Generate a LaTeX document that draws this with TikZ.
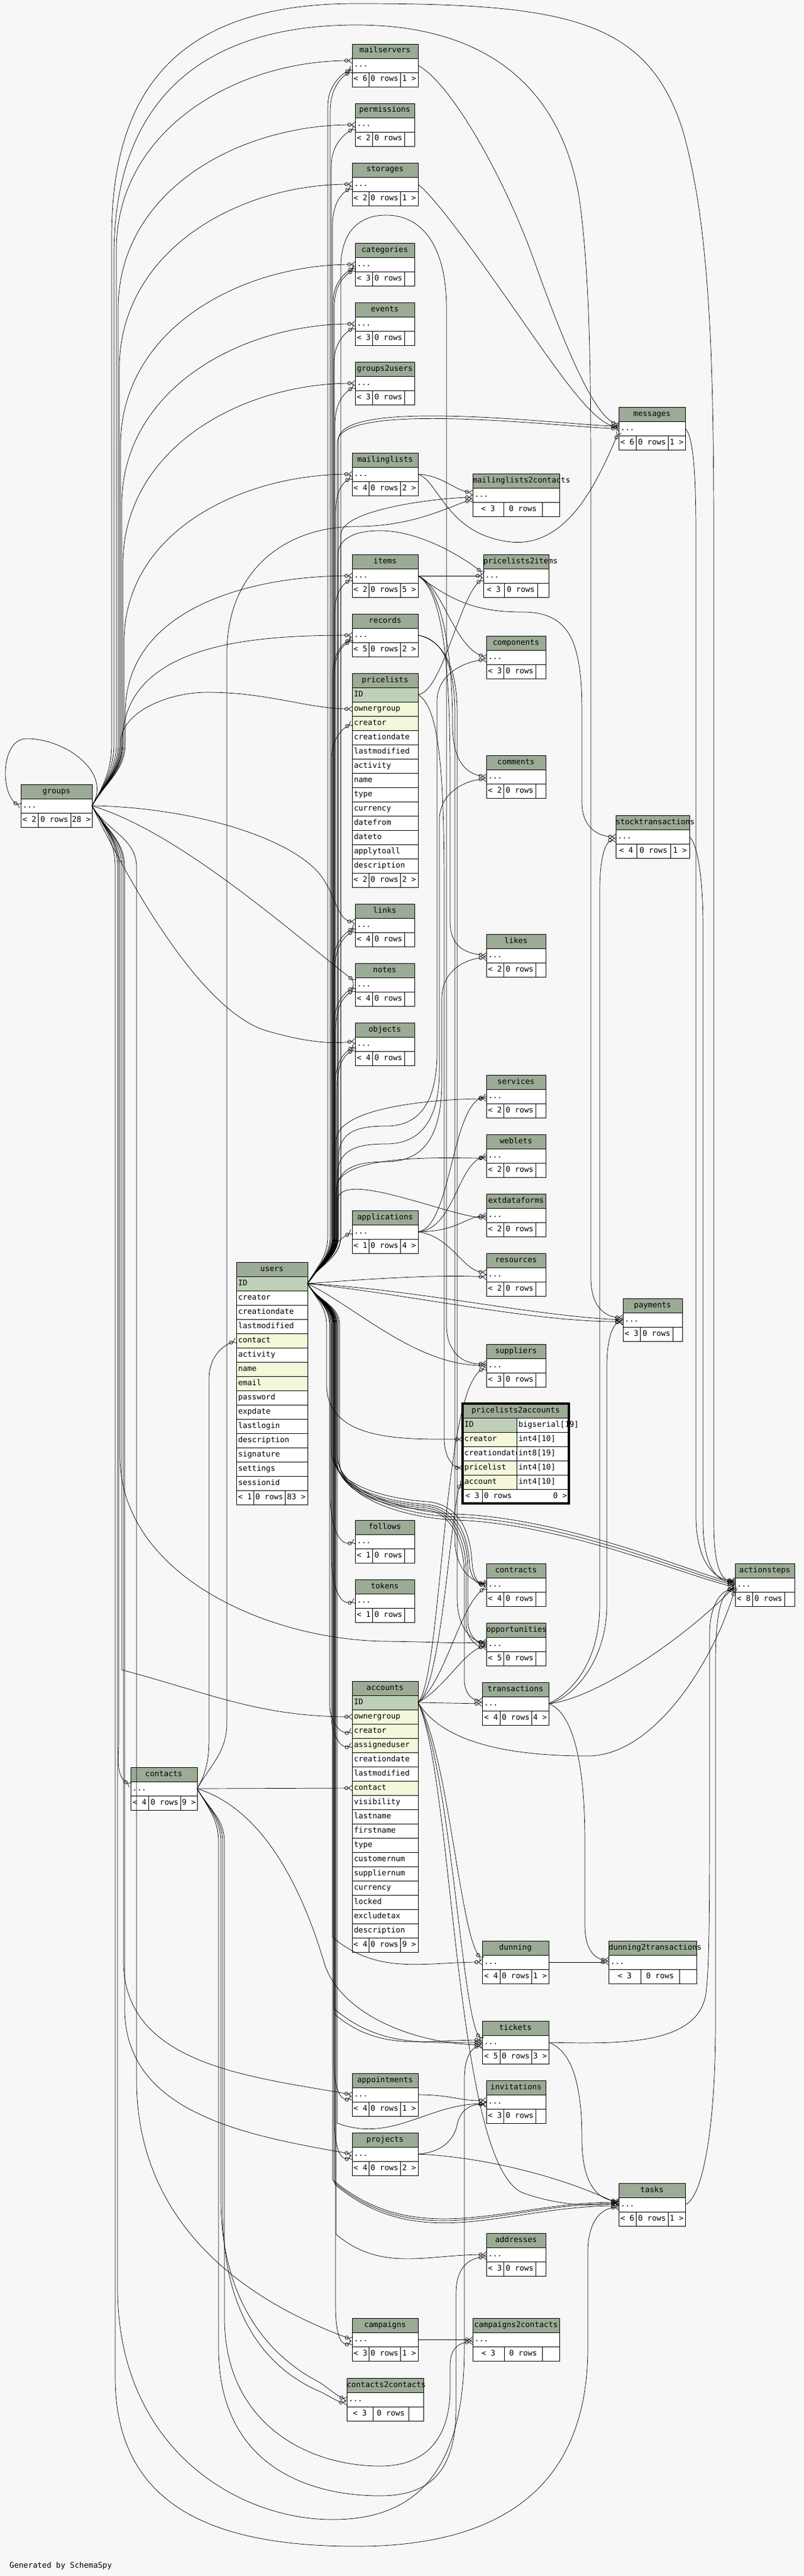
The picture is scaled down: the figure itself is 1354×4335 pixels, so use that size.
\documentclass[tikz,border=0pt]{standalone}
\usepackage{fontspec}
\newfontfamily\dfont{DejaVu Sans Mono}
\usetikzlibrary{arrows.meta}
\definecolor{bgc}{HTML}{F7F7F7}
\definecolor{hdr}{HTML}{9BAB96}
\definecolor{pkc}{HTML}{BED1B8}
\definecolor{fkc}{HTML}{F4F7DA}
\tikzset{
  cellbox/.style={draw=black, line width=0.9pt, minimum height=24pt, inner sep=0pt, outer sep=0pt, anchor=north west, font=\dfont\fontsize{13}{15}\selectfont},
  fk/.style={draw=black, line width=0.7pt, -{Circle[open,length=6.5pt,width=6.5pt] Straight Barb[reversed,length=5.5pt,width=9pt]}},
}
\newcommand\footer[8]{%
  \pgfmathsetmacro\wa{#3-#2}\pgfmathsetmacro\wb{#4-#3}\pgfmathsetmacro\wc{#5-#4}%
  \node[cellbox,fill=white] (#1-f1) at (#2,-#6) {\hbox to \wa pt{\strut\hfil #7\hfil}};
  \node[cellbox,fill=white] (#1-f2) at (#3,-#6) {\hbox to \wb pt{\strut\hfil 0 rows\hfil}};
  \node[cellbox,fill=white] (#1-f3) at (#4,-#6) {\hbox to \wc pt{\strut\hfil #8\hfil}};
}
\newcommand\tbl[9]{%
  \pgfmathsetmacro\tw{#5-#2}%
  \node[cellbox,fill=hdr] (#1) at (#2,-#6) {\hbox to \tw pt{\strut\hfil #7\hfil}};
  \node[cellbox,fill=white] (#1-r) at (#2,-#6-24) {\hbox to \tw pt{\strut\hskip3pt...\hfil}};
  \pgfmathsetmacro\fy{#6+48}%
  \footer{#1}{#2}{#3}{#4}{#5}{\fy}{#8}{#9}%
}
\newcommand\ccell[6]{\node[cellbox,fill=#5] (#1) at (#2,-#4) {\hbox to #3pt{\strut\hskip3pt #6\hfil}};}
\newcommand\EU[6][]{\draw[fk] (#2) to[out=60,in=-90] (#4,-#5) -- (#4,-#6) to[out=90,in=180,#1] (#3);}
\newcommand\ED[6][]{\draw[fk] (#2) to[out=-60,in=90] (#4,-#5) -- (#4,-#6) to[out=-90,in=180,#1] (#3);}
\begin{document}
\begin{tikzpicture}[x=1pt,y=1pt]
\useasboundingbox (0,0) rectangle (1354,-4335);
\fill[bgc] (0,0) rectangle (1354,-4335);

% ---------------- tables ----------------
\tbl{mailservers}{593}{621}{674}{704}{74}{mailservers}{< 6}{1 >}
\tbl{permissions}{598}{627}{681}{698}{174}{permissions}{< 2}{}
\tbl{storages}{593}{621}{674}{704}{274}{storages}{< 2}{1 >}
\tbl{categories}{598}{627}{681}{698}{409}{categories}{< 3}{}
\tbl{events}{598}{627}{681}{698}{509}{events}{< 3}{}
\tbl{groups2users}{598}{627}{681}{698}{609}{groups2users}{< 3}{}
\tbl{messages}{1042}{1071}{1125}{1154}{685}{messages}{< 6}{1 >}
\tbl{mailinglists}{593}{621}{674}{704}{762}{mailinglists}{< 4}{2 >}
\tbl{mailinglists2contacts}{796}{848}{913}{942}{797}{mailinglists2contacts}{< 3}{}
\tbl{items}{593}{621}{674}{704}{933}{items}{< 2}{5 >}
\tbl{pricelists2items}{814}{849}{905}{924}{933}{pricelists2items}{< 3}{}
\tbl{records}{593}{621}{674}{704}{1033}{records}{< 5}{2 >}
\tbl{components}{819}{848}{902}{919}{1070}{components}{< 3}{}
\tbl{comments}{819}{848}{902}{919}{1271}{comments}{< 2}{}
\tbl{groups}{35}{64}{119}{155}{1320}{groups}{< 2}{28 >}
\tbl{stocktransactions}{1037}{1072}{1129}{1161}{1372}{stocktransactions}{< 4}{1 >}
\tbl{links}{598}{627}{681}{698}{1521}{links}{< 4}{}
\tbl{likes}{819}{848}{902}{919}{1572}{likes}{< 2}{}
\tbl{notes}{598}{627}{681}{698}{1621}{notes}{< 4}{}
\tbl{objects}{598}{627}{681}{698}{1721}{objects}{< 4}{}
\tbl{services}{819}{848}{902}{919}{1809}{services}{< 2}{}
\tbl{weblets}{819}{848}{902}{919}{1909}{weblets}{< 2}{}
\tbl{extdataforms}{819}{848}{902}{919}{2009}{extdataforms}{< 2}{}
\tbl{applications}{593}{621}{674}{704}{2037}{applications}{< 1}{4 >}
\tbl{resources}{819}{848}{902}{919}{2109}{resources}{< 2}{}
\tbl{payments}{1049}{1078}{1133}{1149}{2185}{payments}{< 3}{}
\tbl{suppliers}{819}{848}{902}{919}{2262}{suppliers}{< 3}{}
\tbl{follows}{598}{627}{681}{698}{2558}{follows}{< 1}{}
\tbl{tokens}{598}{627}{681}{698}{2658}{tokens}{< 1}{}
\tbl{contracts}{819}{848}{902}{919}{2631}{contracts}{< 4}{}
\tbl{actionsteps}{1238}{1267}{1321}{1338}{2631}{actionsteps}{< 8}{}
\tbl{opportunities}{819}{848}{902}{919}{2731}{opportunities}{< 5}{}
\tbl{transactions}{812}{842}{895}{924}{2831}{transactions}{< 4}{4 >}
\tbl{contacts}{220}{250}{304}{332}{2974}{contacts}{< 4}{9 >}
\tbl{dunning}{812}{842}{895}{924}{3266}{dunning}{< 4}{1 >}
\tbl{dunning2transactions}{1025}{1079}{1144}{1173}{3266}{dunning2transactions}{< 3}{}
\tbl{tickets}{812}{842}{895}{924}{3401}{tickets}{< 5}{3 >}
\tbl{appointments}{593}{621}{674}{704}{3489}{appointments}{< 4}{1 >}
\tbl{invitations}{819}{848}{902}{919}{3501}{invitations}{< 3}{}
\tbl{projects}{593}{621}{674}{704}{3589}{projects}{< 4}{2 >}
\tbl{tasks}{1042}{1071}{1125}{1154}{3674}{tasks}{< 6}{1 >}
\tbl{addresses}{819}{848}{902}{919}{3758}{addresses}{< 3}{}
\tbl{campaigns}{593}{621}{674}{704}{3901}{campaigns}{< 3}{1 >}
\tbl{campaigns2contacts}{796}{849}{913}{942}{3901}{campaigns2contacts}{< 3}{}
\tbl{contacts2contacts}{584}{628}{688}{713}{4002}{contacts2contacts}{< 3}{}

% pricelists
\node[cellbox,fill=hdr] (pricelists) at (593,-1133) {\hbox to 111pt{\strut\hfil pricelists\hfil}};
\ccell{pl-ID}{593}{111}{1157}{pkc}{ID}
\ccell{pl-ownergroup}{593}{111}{1181}{fkc}{ownergroup}
\ccell{pl-creator}{593}{111}{1205}{fkc}{creator}
\ccell{pl-creationdate}{593}{111}{1229}{white}{creationdate}
\ccell{pl-lastmodified}{593}{111}{1253}{white}{lastmodified}
\ccell{pl-activity}{593}{111}{1277}{white}{activity}
\ccell{pl-name}{593}{111}{1301}{white}{name}
\ccell{pl-type}{593}{111}{1325}{white}{type}
\ccell{pl-currency}{593}{111}{1349}{white}{currency}
\ccell{pl-datefrom}{593}{111}{1373}{white}{datefrom}
\ccell{pl-dateto}{593}{111}{1397}{white}{dateto}
\ccell{pl-applytoall}{593}{111}{1421}{white}{applytoall}
\ccell{pl-description}{593}{111}{1445}{white}{description}
\footer{pricelists}{593}{621}{674}{704}{1469}{< 2}{2 >}

% users
\node[cellbox,fill=hdr] (users) at (398,-2124) {\hbox to 120pt{\strut\hfil users\hfil}};
\ccell{us-ID}{398}{120}{2148}{pkc}{ID}
\ccell{us-creator}{398}{120}{2172}{white}{creator}
\ccell{us-creationdate}{398}{120}{2196}{white}{creationdate}
\ccell{us-lastmodified}{398}{120}{2220}{white}{lastmodified}
\ccell{us-contact}{398}{120}{2244}{fkc}{contact}
\ccell{us-activity}{398}{120}{2268}{white}{activity}
\ccell{us-name}{398}{120}{2292}{fkc}{name}
\ccell{us-email}{398}{120}{2316}{fkc}{email}
\ccell{us-password}{398}{120}{2340}{white}{password}
\ccell{us-expdate}{398}{120}{2364}{white}{expdate}
\ccell{us-lastlogin}{398}{120}{2388}{white}{lastlogin}
\ccell{us-description}{398}{120}{2412}{white}{description}
\ccell{us-signature}{398}{120}{2436}{white}{signature}
\ccell{us-settings}{398}{120}{2460}{white}{settings}
\ccell{us-sessionid}{398}{120}{2484}{white}{sessionid}
\footer{users}{398}{427}{480}{518}{2508}{< 1}{83 >}

% accounts
\node[cellbox,fill=hdr] (accounts) at (593,-2829) {\hbox to 111pt{\strut\hfil accounts\hfil}};
\ccell{ac-ID}{593}{111}{2853}{pkc}{ID}
\ccell{ac-ownergroup}{593}{111}{2877}{fkc}{ownergroup}
\ccell{ac-creator}{593}{111}{2901}{fkc}{creator}
\ccell{ac-assigneduser}{593}{111}{2925}{fkc}{assigneduser}
\ccell{ac-creationdate}{593}{111}{2949}{white}{creationdate}
\ccell{ac-lastmodified}{593}{111}{2973}{white}{lastmodified}
\ccell{ac-contact}{593}{111}{2997}{fkc}{contact}
\ccell{ac-visibility}{593}{111}{3021}{white}{visibility}
\ccell{ac-lastname}{593}{111}{3045}{white}{lastname}
\ccell{ac-firstname}{593}{111}{3069}{white}{firstname}
\ccell{ac-type}{593}{111}{3093}{white}{type}
\ccell{ac-customernum}{593}{111}{3117}{white}{customernum}
\ccell{ac-suppliernum}{593}{111}{3141}{white}{suppliernum}
\ccell{ac-currency}{593}{111}{3165}{white}{currency}
\ccell{ac-locked}{593}{111}{3189}{white}{locked}
\ccell{ac-excludetax}{593}{111}{3213}{white}{excludetax}
\ccell{ac-description}{593}{111}{3237}{white}{description}
\footer{accounts}{593}{621}{674}{704}{3261}{< 4}{9 >}

% pricelists2accounts
\node[cellbox,fill=hdr] (pa) at (779,-2362) {\hbox to 179pt{\strut\hfil pricelists2accounts\hfil}};
\ccell{pa-ID}{779}{91}{2386}{pkc}{ID}
\ccell{pa-IDt}{870}{88}{2386}{white}{bigserial[19]}
\ccell{pa-creator}{779}{91}{2410}{fkc}{creator}
\ccell{pa-creatort}{870}{88}{2410}{white}{int4[10]}
\ccell{pa-creationdate}{779}{91}{2434}{white}{creationdate}
\ccell{pa-creationdatet}{870}{88}{2434}{white}{int8[19]}
\ccell{pa-pricelist}{779}{91}{2458}{fkc}{pricelist}
\ccell{pa-pricelistt}{870}{88}{2458}{white}{int4[10]}
\ccell{pa-account}{779}{91}{2482}{fkc}{account}
\ccell{pa-accountt}{870}{88}{2482}{white}{int4[10]}
\node[cellbox,fill=white] (pa-f1) at (779,-2506) {\hbox to 33pt{\strut\hfil < 3\hfil}};
\node[cellbox,fill=white] (pa-f2) at (812,-2506) {\hbox to 146pt{\strut\hskip3pt 0 rows\hfil 0 >\hskip3pt}};
\draw[line width=3.5pt] (pa.north west) rectangle (pa-f2.south east);

\node[anchor=base west, inner sep=0pt, font=\dfont\fontsize{13}{15}\selectfont] (gen) at (16,-4321) {Generated by SchemaSpy};

% ---------------- connectors ----------------
% groups self loop
\draw[fk] (groups-r.east) .. controls (190,-1300) and (110,-1243) .. (45,-1243) .. controls (0,-1243) and (0,-1340) .. (groups-r.west);
% groups upward
\EU{groups-r.east}{[yshift=8pt]mailservers-r.west}{196}{1250}{420}
\EU{groups-r.east}{permissions-r.west}{199}{1250}{520}
\EU{groups-r.east}{storages-r.west}{201}{1250}{620}
\EU{groups-r.east}{categories-r.west}{203}{1250}{750}
\EU{groups-r.east}{events-r.west}{205}{1250}{850}
\EU{groups-r.east}{groups2users-r.west}{207}{1250}{950}
\EU{groups-r.east}{mailinglists-r.west}{209}{1250}{1080}
\EU{groups-r.east}{items-r.west}{211}{1250}{1200}
\EU{groups-r.east}{records-r.west}{206}{1250}{1250}
\draw[fk] (groups-r.east) to[out=60,in=-90] (203,-1250) .. controls (203,-1200) and (280,-1165) .. (350,-1165) .. controls (450,-1165) and (520,-1193) .. (pl-ownergroup.west);
\draw[fk] (groups-r.east) .. controls (320,-1358) and (500,-1410) .. (545,-1480) .. controls (565,-1510) and (570,-1550) .. ([yshift=6pt]links-r.west);
\draw[fk] (groups-r.east) .. controls (300,-1400) and (480,-1560) .. ([yshift=5pt]notes-r.west);
\draw[fk] (groups-r.east) .. controls (200,-1450) and (330,-1700) .. (450,-1735) .. controls (520,-1755) and (560,-1757) .. ([yshift=5pt]objects-r.west);
% groups top arcs
\draw[fk] (groups-r.east) to[out=60,in=-90] (188,-1250) -- (188,-400) .. controls (188,-150) and (300,-6) .. (600,-6) .. controls (950,-6) and (1090,-30) .. (1150,-220) .. controls (1195,-380) and (1202,-600) .. (1202,-900) -- (1202,-2560) .. controls (1202,-2640) and (1215,-2660) .. ([yshift=6pt]actionsteps-r.west);
\draw[fk] (groups-r.east) to[out=60,in=-90] (192,-1250) -- (192,-430) .. controls (192,-160) and (350,-42) .. (600,-42) .. controls (800,-42) and (940,-130) .. (975,-330) .. controls (992,-450) and (995,-600) .. (995,-800) -- (995,-2150) .. controls (995,-2200) and (1020,-2217) .. ([yshift=4pt]payments-r.west);
% groups downward
\ED[out=-15]{groups-r.east}{ac-ownergroup.west}{205}{1460}{2810}
\ED[in=150]{groups-r.east}{[yshift=6pt]contacts-r.west}{200}{1460}{2930}
\ED[in=170]{groups-r.east}{appointments-r.west}{208}{1460}{3300}
\ED[in=170]{groups-r.east}{projects-r.west}{210}{1460}{3380}
\ED[in=160]{groups-r.east}{campaigns-r.west}{230}{1460}{3500}
\draw[fk] (groups-r.east) to[out=-60,in=90] (202,-1460) -- (202,-2450) .. controls (202,-2650) and (450,-2760) .. (650,-2762) .. controls (740,-2763) and (780,-2767) .. ([yshift=5pt]opportunities-r.west);
\draw[fk] (groups-r.east) to[out=-60,in=90] (194,-1460) -- (194,-4000) .. controls (194,-4230) and (380,-4285) .. (600,-4285) .. controls (850,-4285) and (990,-4180) .. (990,-3950) -- (990,-3790) .. controls (990,-3735) and (1015,-3715) .. ([yshift=-5pt]tasks-r.west);
\draw[fk] (groups-r.east) to[out=-60,in=90] (198,-1460) -- (198,-3850) .. controls (198,-4120) and (400,-4240) .. (560,-4240) .. controls (700,-4240) and (782,-4160) .. (782,-3950) -- (782,-3500) .. controls (782,-3460) and (795,-3445) .. ([yshift=-6pt]tickets-r.west);

% users upward
\EU[in=210]{us-ID.east}{[yshift=-5pt]mailservers-r.west}{552}{2080}{180}
\EU[in=210]{us-ID.east}{[yshift=-9pt]mailservers-r.west}{556}{2080}{190}
\EU[in=210]{us-ID.east}{[yshift=-5pt]permissions-r.west}{558}{2080}{280}
\EU[in=210]{us-ID.east}{[yshift=-5pt]storages-r.west}{560}{2080}{380}
\EU[in=210]{us-ID.east}{[yshift=-4pt]categories-r.west}{561}{2080}{510}
\EU[in=210]{us-ID.east}{[yshift=-8pt]categories-r.west}{563}{2080}{515}
\EU[in=210]{us-ID.east}{[yshift=-5pt]events-r.west}{562}{2080}{615}
\EU[in=210]{us-ID.east}{[yshift=-5pt]groups2users-r.west}{564}{2080}{715}
\EU[looseness=0.4]{us-ID.east}{messages-r.west}{568}{2080}{745}
\EU[looseness=0.4]{us-ID.east}{[yshift=4pt]messages-r.west}{570}{2080}{740}
\EU[in=210]{us-ID.east}{[yshift=-5pt]mailinglists-r.west}{565}{2080}{870}
\EU[looseness=0.5]{us-ID.east}{[yshift=-4pt]mailinglists2contacts-r.west}{574}{2080}{900}
\EU[in=210]{us-ID.east}{[yshift=-5pt]items-r.west}{563}{2080}{1040}
\draw[fk] (us-ID.east) to[out=60,in=-90] (569,-2080) -- (569,-935) .. controls (569,-905) and (600,-893) .. (640,-893) .. controls (700,-893) and (770,-930) .. ([yshift=4pt]pricelists2items-r.west);
\EU[in=210]{us-ID.east}{[yshift=-5pt]records-r.west}{560}{2080}{1140}
\EU[in=210]{us-ID.east}{[yshift=-8pt]records-r.west}{562}{2080}{1150}
\EU[in=210]{us-ID.east}{pl-creator.west}{558}{2080}{1280}
\EU[in=210]{us-ID.east}{[yshift=-3pt]links-r.west}{560}{2080}{1630}
\EU[in=210]{us-ID.east}{[yshift=-8pt]links-r.west}{563}{2080}{1640}
\EU[in=210]{us-ID.east}{[yshift=-3pt]notes-r.west}{562}{2080}{1730}
\EU[in=210]{us-ID.east}{[yshift=-8pt]notes-r.west}{565}{2080}{1740}
\EU[in=210]{us-ID.east}{[yshift=-3pt]objects-r.west}{564}{2080}{1830}
\EU[in=210]{us-ID.east}{[yshift=-8pt]objects-r.west}{567}{2080}{1840}
\draw[fk] (us-ID.east) to[out=50,in=210] (applications-r.west);
\draw[fk] (us-ID.east) to[out=60,in=-90] (566,-2080) -- (566,-2010) .. controls (566,-1965) and (600,-1955) .. (650,-1955) .. controls (715,-1955) and (744,-1910) .. (744,-1820) -- (744,-1680) .. controls (744,-1630) and (790,-1612) .. ([yshift=-4pt]likes-r.west);
\draw[fk] (us-ID.east) to[out=60,in=-90] (568,-2080) -- (568,-1980) .. controls (568,-1935) and (600,-1925) .. (650,-1925) .. controls (712,-1925) and (740,-1880) .. (740,-1800) -- (740,-1380) .. controls (740,-1330) and (790,-1312) .. ([yshift=-4pt]comments-r.west);
\draw[fk] (us-ID.east) to[out=60,in=-90] (570,-2080) -- (570,-1950) .. controls (570,-1905) and (600,-1895) .. (650,-1895) .. controls (710,-1895) and (736,-1850) .. (736,-1770) -- (736,-1180) .. controls (736,-1130) and (790,-1112) .. ([yshift=-4pt]components-r.west);
\EU[looseness=0.6]{us-ID.east}{[yshift=-4pt]services-r.west}{566}{2080}{1920}
\EU[looseness=0.6]{us-ID.east}{[yshift=-4pt]weblets-r.west}{567}{2080}{2000}
\EU[looseness=0.6]{us-ID.east}{[yshift=-4pt]extdataforms-r.west}{568}{2080}{2022}
\draw[fk] (us-ID.east) to[out=60,in=-90] (574,-2080) -- (574,-450) .. controls (574,-385) and (610,-362) .. (650,-362) .. controls (715,-362) and (752,-420) .. (752,-520) -- (752,-2230) .. controls (752,-2280) and (785,-2298) .. ([yshift=4pt]suppliers-r.west);
% users to the right
\draw[fk] (us-ID.east) .. controls (650,-2150) and (750,-2145) .. ([yshift=-4pt]resources-r.west);
\draw[fk] (us-ID.east) .. controls (700,-2170) and (900,-2215) .. (payments-r.west);
\draw[fk] (us-ID.east) .. controls (700,-2180) and (900,-2225) .. ([yshift=-3pt]payments-r.west);
\draw[fk] (us-ID.east) .. controls (600,-2200) and (700,-2298) .. (suppliers-r.west);
\ED{us-ID.east}{pa-creator.west}{550}{2230}{2330}
\ED[in=200]{us-ID.east}{follows-r.west}{556}{2230}{2520}
\ED[in=200]{us-ID.east}{tokens-r.west}{558}{2230}{2620}
\draw[fk] (us-ID.east) to[out=-60,in=90] (558,-2230) -- (558,-2440) .. controls (558,-2500) and (650,-2522) .. (720,-2527) .. controls (772,-2532) and (792,-2575) .. (795,-2630) .. controls (797,-2655) and (805,-2665) .. (contracts-r.west);
\draw[fk] (us-ID.east) to[out=-60,in=90] (561,-2230) -- (561,-2445) .. controls (561,-2505) and (650,-2527) .. (720,-2532) .. controls (768,-2537) and (788,-2580) .. (791,-2635) .. controls (793,-2655) and (805,-2670) .. ([yshift=5pt]contracts-r.west);
\draw[fk] (us-ID.east) to[out=-60,in=90] (563,-2230) -- (563,-2448) .. controls (563,-2508) and (650,-2530) .. (720,-2535) .. controls (766,-2540) and (788,-2590) .. (788,-2640) -- (788,-2730) .. controls (790,-2755) and (805,-2765) .. (opportunities-r.west);
\draw[fk] (us-ID.east) to[out=-60,in=90] (565,-2230) -- (565,-2451) .. controls (565,-2511) and (650,-2533) .. (720,-2538) .. controls (764,-2543) and (785,-2595) .. (785,-2645) -- (785,-2735) .. controls (787,-2760) and (805,-2772) .. ([yshift=-5pt]opportunities-r.west);
\draw[fk] (us-ID.east) to[out=-60,in=90] (567,-2230) -- (567,-2454) .. controls (567,-2514) and (650,-2536) .. (720,-2541) .. controls (762,-2546) and (782,-2600) .. (782,-2650) -- (782,-2830) .. controls (784,-2855) and (800,-2862) .. ([yshift=5pt]transactions-r.west);
\draw[fk] (us-ID.east) to[out=-60,in=90] (568,-2230) -- (568,-2450) .. controls (568,-2510) and (680,-2545) .. (770,-2548) .. controls (950,-2555) and (1150,-2640) .. ([yshift=2pt]actionsteps-r.west);
\draw[fk] (us-ID.east) to[out=-60,in=90] (570,-2230) -- (570,-2455) .. controls (570,-2515) and (680,-2550) .. (770,-2553) .. controls (950,-2560) and (1150,-2645) .. ([yshift=-1pt]actionsteps-r.west);
\draw[fk] (us-ID.east) to[out=-60,in=90] (572,-2230) -- (572,-2460) .. controls (572,-2520) and (680,-2555) .. (770,-2558) .. controls (950,-2565) and (1150,-2650) .. ([yshift=-4pt]actionsteps-r.west);
\ED[in=200]{us-ID.east}{ac-creator.west}{555}{2230}{2870}
\ED[in=200]{us-ID.east}{ac-assigneduser.west}{558}{2230}{2890}
\ED[out=-40]{us-ID.east}{dunning-r.west}{560}{2230}{3260}
\ED[out=-40]{us-ID.east}{tickets-r.west}{562}{2230}{3380}
\ED[out=-40]{us-ID.east}{[yshift=4pt]tickets-r.west}{564}{2230}{3390}
\ED[in=200]{us-ID.east}{[yshift=-5pt]appointments-r.west}{562}{2230}{3470}
\ED[out=-20]{us-ID.east}{[yshift=-3pt]invitations-r.west}{568}{2230}{3573}
\ED[in=200]{us-ID.east}{[yshift=-5pt]projects-r.west}{563}{2230}{3570}
\ED[out=-40]{us-ID.east}{[yshift=4pt]tasks-r.west}{560}{2230}{3668}
\ED[out=-40]{us-ID.east}{[yshift=2pt]tasks-r.west}{562}{2230}{3672}
\ED[out=-40]{us-ID.east}{[yshift=-2pt]tasks-r.west}{564}{2230}{3676}
\ED[out=-40]{us-ID.east}{addresses-r.west}{566}{2230}{3760}
\ED[in=200]{us-ID.east}{[yshift=-5pt]campaigns-r.west}{565}{2230}{3880}

% contacts
\draw[fk] (contacts-r.east) -- (ac-contact.west);
\draw[fk] (contacts-r.east) to[out=60,in=-90] (352,-2900) -- (352,-2320) to[out=90,in=200] (us-contact.west);
\draw[fk] (contacts-r.east) to[out=60,in=-90] (382,-2900) -- (382,-1100) .. controls (382,-960) and (480,-886) .. (600,-886) .. controls (700,-886) and (760,-850) .. ([yshift=-8pt]mailinglists2contacts-r.west);
\draw[fk] (contacts-r.east) .. controls (430,-3040) and (500,-3150) .. (545,-3300) .. controls (570,-3390) and (700,-3440) .. ([yshift=-4pt]tickets-r.west);
\draw[fk] (contacts-r.east) to[out=-60,in=90] (372,-3100) -- (372,-3700) .. controls (372,-3900) and (480,-3980) .. (540,-4010) .. controls (560,-4025) and (570,-4033) .. (contacts2contacts-r.west);
\draw[fk] (contacts-r.east) to[out=-60,in=90] (375,-3100) -- (375,-3720) .. controls (375,-3930) and (480,-4000) .. (540,-4025) .. controls (560,-4035) and (570,-4043) .. ([yshift=-5pt]contacts2contacts-r.west);
\draw[fk] (contacts-r.east) to[out=-60,in=90] (368,-3100) -- (368,-3950) .. controls (368,-4150) and (520,-4200) .. (640,-4200) .. controls (740,-4200) and (768,-4140) .. (768,-4050) -- (768,-3860) .. controls (768,-3815) and (790,-3800) .. ([yshift=-4pt]addresses-r.west);
\draw[fk] (contacts-r.east) to[out=-60,in=90] (378,-3100) -- (378,-3900) .. controls (378,-4080) and (520,-4150) .. (640,-4150) .. controls (720,-4150) and (758,-4100) .. (758,-4020) -- (758,-3980) .. controls (758,-3950) and (775,-3942) .. ([yshift=-4pt]campaigns2contacts-r.west);

% accounts
\draw[fk] (ac-ID.east) -- (transactions-r.west);
\draw[fk] (ac-ID.east) .. controls (745,-2840) and (760,-2520) .. (pa-account.west);
\draw[fk] (ac-ID.east) .. controls (750,-2830) and (775,-2700) .. ([yshift=-4pt]contracts-r.west);
\draw[fk] (ac-ID.east) .. controls (750,-2840) and (780,-2780) .. ([yshift=-2pt]opportunities-r.west);
\draw[fk] (ac-ID.east) .. controls (750,-2940) and (880,-2955) .. (990,-2955) .. controls (1100,-2955) and (1200,-2800) .. ([yshift=-6pt]actionsteps-r.west);
\draw[fk] (ac-ID.east) .. controls (755,-2950) and (775,-3260) .. ([yshift=5pt]dunning-r.west);
\draw[fk] (ac-ID.east) .. controls (760,-2980) and (778,-3400) .. ([yshift=5pt]tickets-r.west);
\draw[fk] (ac-ID.east) .. controls (765,-3000) and (765,-3640) .. (880,-3690) .. controls (950,-3715) and (1010,-3712) .. ([yshift=3pt]tasks-r.west);
\draw[fk] (ac-ID.east) .. controls (745,-2820) and (745,-2330) .. ([yshift=-4pt]suppliers-r.west);

% pricelists
\draw[fk] (pl-ID.east) .. controls (745,-1165) and (775,-1000) .. ([yshift=-5pt]pricelists2items-r.west);
\draw[fk] (pl-ID.east) .. controls (740,-1190) and (748,-1300) .. (748,-1500) -- (748,-2420) .. controls (748,-2455) and (765,-2470) .. (pa-pricelist.west);

% items
\draw[fk] (items-r.east) -- (pricelists2items-r.west);
\draw[fk] (items-r.east) .. controls (745,-985) and (765,-1090) .. (components-r.west);
\draw[fk] (items-r.east) .. controls (745,-990) and (762,-1100) .. (762,-1220) .. controls (762,-1280) and (785,-1303) .. (comments-r.west);
\draw[fk] (items-r.east) .. controls (742,-992) and (758,-1100) .. (758,-1300) -- (758,-1550) .. controls (758,-1595) and (785,-1604) .. (likes-r.west);
\draw[fk] (items-r.east) .. controls (760,-1010) and (800,-1030) .. (880,-1030) .. controls (960,-1030) and (980,-1080) .. (980,-1200) -- (980,-1350) .. controls (980,-1395) and (1010,-1408) .. (stocktransactions-r.west);

% records
\draw[fk] (records-r.east) .. controls (745,-1075) and (766,-1120) .. (766,-1200) -- (766,-2590) .. controls (766,-2640) and (795,-2662) .. ([yshift=2pt]contracts-r.west);
\draw[fk] (records-r.east) .. controls (748,-1078) and (770,-1125) .. (770,-1200) -- (770,-2690) .. controls (770,-2740) and (795,-2762) .. ([yshift=2pt]opportunities-r.west);

% applications
\draw[fk] (applications-r.east) .. controls (760,-2065) and (760,-1860) .. (services-r.west);
\draw[fk] (applications-r.east) .. controls (765,-2068) and (770,-1960) .. (weblets-r.west);
\draw[fk] (applications-r.east) .. controls (770,-2072) and (780,-2050) .. (extdataforms-r.west);
\draw[fk] (applications-r.east) .. controls (760,-2080) and (780,-2140) .. ([yshift=4pt]resources-r.west);

% mailservers, storages, mailinglists
\draw[fk] (mailservers-r.east) .. controls (760,-140) and (850,-300) .. (900,-440) .. controls (950,-580) and (1000,-700) .. ([yshift=6pt]messages-r.west);
\draw[fk] (storages-r.east) .. controls (740,-340) and (810,-440) .. (880,-540) .. controls (950,-640) and (1000,-712) .. ([yshift=2pt]messages-r.west);
\draw[fk] (mailinglists-r.east) .. controls (745,-800) and (765,-825) .. ([yshift=4pt]mailinglists2contacts-r.west);
\draw[fk] (mailinglists-r.east) .. controls (740,-810) and (752,-900) .. (860,-912) .. controls (960,-922) and (1010,-800) .. ([yshift=-6pt]messages-r.west);

% right column
\draw[fk] (messages-r.east) .. controls (1168,-735) and (1172,-800) .. (1172,-900) -- (1172,-2550) .. controls (1172,-2630) and (1205,-2660) .. ([yshift=8pt]actionsteps-r.west);
\draw[fk] (stocktransactions-r.east) .. controls (1175,-1420) and (1184,-1480) .. (1184,-1560) -- (1184,-2560) .. controls (1184,-2640) and (1210,-2662) .. ([yshift=4pt]actionsteps-r.west);
\draw[fk] (transactions-r.east) .. controls (960,-2850) and (1010,-2800) .. (1010,-2700) -- (1010,-1500) .. controls (1010,-1440) and (1020,-1415) .. ([yshift=-5pt]stocktransactions-r.west);
\draw[fk] (transactions-r.east) .. controls (960,-2860) and (1022,-2800) .. (1022,-2700) -- (1022,-2300) .. controls (1022,-2245) and (1035,-2225) .. ([yshift=-4pt]payments-r.west);
\draw[fk] (transactions-r.east) .. controls (960,-2880) and (985,-2950) .. (985,-3100) -- (985,-3240) .. controls (985,-3285) and (1005,-3298) .. ([yshift=4pt]dunning2transactions-r.west);
\draw[fk] (transactions-r.east) .. controls (1000,-2860) and (1150,-2760) .. ([yshift=-2pt]actionsteps-r.west);
\draw[fk] (dunning-r.east) -- (dunning2transactions-r.west);
\draw[fk] (tickets-r.east) .. controls (1050,-3440) and (1170,-3440) .. (1188,-3360) .. controls (1195,-3320) and (1195,-3200) .. (1195,-3000) -- (1195,-2750) .. controls (1195,-2700) and (1215,-2675) .. ([yshift=-8pt]actionsteps-r.west);
\draw[fk] (tickets-r.east) .. controls (960,-3450) and (980,-3500) .. (980,-3600) .. controls (980,-3680) and (1010,-3702) .. ([yshift=6pt]tasks-r.west);
\draw[fk] (tasks-r.east) .. controls (1180,-3700) and (1205,-3600) .. (1205,-3400) -- (1205,-2800) .. controls (1205,-2700) and (1218,-2680) .. ([yshift=-4pt]actionsteps-r.west);
\draw[fk] (projects-r.east) .. controls (820,-3630) and (950,-3665) .. ([yshift=1pt]tasks-r.west);
\draw[fk] (projects-r.east) .. controls (745,-3622) and (765,-3600) .. (770,-3575) .. controls (776,-3548) and (795,-3540) .. ([yshift=-5pt]invitations-r.west);
\draw[fk] (appointments-r.east) .. controls (760,-3525) and (780,-3537) .. ([yshift=3pt]invitations-r.west);
\draw[fk] (campaigns-r.east) -- (campaigns2contacts-r.west);
\end{tikzpicture}
\end{document}
